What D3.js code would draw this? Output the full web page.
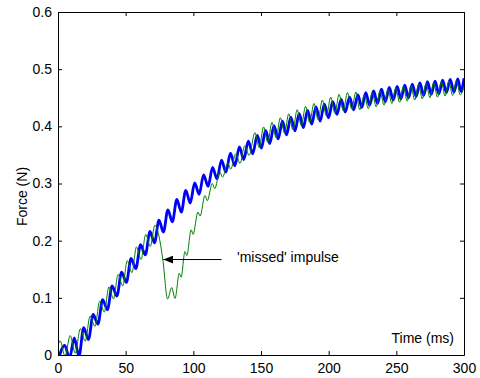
<!DOCTYPE html>
<html>
<head>
<meta charset="utf-8">
<script src="https://cdn.jsdelivr.net/npm/d3@7"></script>
<style>
  body { margin: 0; background: #fff; }
  svg text { font-family: "Liberation Sans", Arial, sans-serif; }
</style>
</head>
<body>
<figure id="chart" style="margin:0"></figure>
<script>
// tick labels
const xTicks = [0, 50, 100, 150, 200, 250, 300];
const yTicks = [0, 0.1, 0.2, 0.3, 0.4, 0.5, 0.6];

// blue trace: time (ms) and force (N), peaks and troughs
const blueTime = [0, 5, 8.5, 12, 15.5, 19, 22.5, 26, 29.5, 33, 36.5, 40, 43.5, 47, 50.5, 54, 57.5, 61, 64.5, 68,
  71.3, 74.6, 77.9, 81.2, 84.5, 87.8, 91.1, 94.4, 97.7, 101, 104.3, 107.6, 110.9, 114.2, 117.5, 120.8, 124.1, 127.4,
  130.7, 134, 137.3, 140.6, 143.9, 147.2, 150.3, 153.4, 156.5, 159.6, 162.7, 165.8, 168.9, 172, 175.1, 178.2, 181.3,
  184.4, 187.5, 190.6, 193.7, 196.8, 199.9, 203, 206.1, 209.2, 212.3, 215.4, 218.5, 221.6, 224.5, 227.4, 230.3, 233.2,
  236.1, 239, 241.9, 244.8, 247.7, 250.6, 253.4, 256.2, 259, 261.8, 264.6, 267.4, 270.2, 273, 275.8, 278.6, 281.4,
  284.2, 287, 289.8, 292.6, 295.4, 297.8, 300];
const blueForce = [-0.01, 0.017, -0.006, 0.030, -0.002, 0.048, 0.027, 0.071, 0.054, 0.097, 0.079, 0.121, 0.103, 0.145,
  0.127, 0.169, 0.151, 0.193, 0.175, 0.216, 0.196, 0.236, 0.215, 0.254, 0.233, 0.272, 0.250, 0.288, 0.266, 0.301,
  0.281, 0.315, 0.295, 0.328, 0.308, 0.341, 0.320, 0.353, 0.331, 0.364, 0.342, 0.374, 0.352, 0.384, 0.362, 0.393,
  0.370, 0.401, 0.378, 0.409, 0.385, 0.416, 0.392, 0.422, 0.398, 0.428, 0.404, 0.434, 0.409, 0.439, 0.415, 0.443,
  0.421, 0.447, 0.425, 0.451, 0.429, 0.455, 0.433, 0.459, 0.437, 0.462, 0.440, 0.465, 0.443, 0.468, 0.446, 0.470,
  0.448, 0.472, 0.450, 0.474, 0.452, 0.476, 0.454, 0.478, 0.456, 0.479, 0.457, 0.481, 0.459, 0.482, 0.460, 0.483,
  0.461, 0.484];

// green trace, with the missed impulse around 80 ms
const greenTime = [0, 1.5, 5.2, 9, 12.8, 16.5, 20.1, 23.7, 27.3, 30.8, 34.2, 37.6, 41, 44.4, 47.8, 51.2, 54.6, 58,
  61.4, 64.8, 68.2, 71.6, 74.2, 77.5, 81, 84, 86.5, 89.6, 91, 93.8, 95.2, 98.4, 99.8, 103.4, 105, 108.6, 110.3, 114,
  115.8, 119.6, 121.6, 125.4, 127.6, 131.4, 134.5, 138, 141.2, 145.5, 148.7, 151.9, 155, 158.1, 161.2, 164.3, 167.4,
  170.5, 173.6, 176.7, 179.8, 182.9, 186, 189.1, 192.2, 195.3, 198.4, 201.5, 204.6, 207.7, 210.8, 213.9, 217, 220.1,
  223, 226.4, 229.3, 232.2, 235.1, 238, 240.9, 243.8, 246.7, 249.6, 252.4, 255.2, 258, 260.8, 263.6, 266.4, 269.2,
  272, 274.8, 277.6, 280.4, 283.2, 286, 288.8, 291.6, 294.4, 297.2, 300];
const greenForce = [0.016, 0.025, -0.002, 0.034, 0.003, 0.046, 0.024, 0.068, 0.050, 0.094, 0.075, 0.119, 0.098,
  0.141, 0.121, 0.165, 0.144, 0.189, 0.167, 0.211, 0.190, 0.227, 0.212, 0.166, 0.098, 0.118, 0.099, 0.143, 0.136,
  0.181, 0.174, 0.219, 0.211, 0.250, 0.243, 0.279, 0.270, 0.300, 0.291, 0.320, 0.311, 0.336, 0.325, 0.352, 0.335,
  0.366, 0.349, 0.389, 0.363, 0.399, 0.372, 0.407, 0.380, 0.415, 0.388, 0.422, 0.394, 0.429, 0.401, 0.435, 0.407,
  0.440, 0.412, 0.446, 0.418, 0.451, 0.423, 0.456, 0.427, 0.459, 0.430, 0.460, 0.429, 0.455, 0.431, 0.459, 0.434,
  0.462, 0.437, 0.464, 0.440, 0.467, 0.442, 0.469, 0.444, 0.471, 0.446, 0.473, 0.448, 0.475, 0.450, 0.476, 0.451,
  0.478, 0.453, 0.479, 0.454, 0.480, 0.455, 0.470];

// annotation: arrow from (tail) to (tip), in data units
const noteText = "'missed' impulse";
const arrowFrom = [120.9, 0.167];
const arrowTo = [77.8, 0.167];
const notePos = [132.3, 0.162];

const width = 480, height = 378;
const margin = { top: 12, right: 16, bottom: 23, left: 58 };
const w = width - margin.left - margin.right;
const h = height - margin.top - margin.bottom;

const svg = d3.select("figure#chart")
  .append("svg")
  .attr("width", width)
  .attr("height", height);

const g = svg.append("g")
  .attr("transform", "translate(" + margin.left + "," + margin.top + ")");

const x = d3.scaleLinear().domain([0, 300]).range([0, w]);
const y = d3.scaleLinear().domain([0, 0.6]).range([h, 0]);

// clip traces to the axes box
g.append("clipPath").attr("id", "clip")
  .append("rect").attr("width", w).attr("height", h);

const line = d3.line()
  .x(d => x(d[0]))
  .y(d => y(d[1]))
  .curve(d3.curveMonotoneX);

g.append("path")
  .datum(blueTime.map((t, i) => [t, blueForce[i]]))
  .attr("clip-path", "url(#clip)")
  .attr("fill", "none")
  .attr("stroke", "#0000ff")
  .attr("stroke-width", 2.8)
  .attr("d", line);

g.append("path")
  .datum(greenTime.map((t, i) => [t, greenForce[i]]))
  .attr("clip-path", "url(#clip)")
  .attr("fill", "none")
  .attr("stroke", "#008000")
  .attr("stroke-width", 1)
  .attr("d", line);

// axes, ticks pointing inward on all four sides
const fmtY = d => d === 0 ? "0" : d.toFixed(1);

const xAxis = g.append("g")
  .attr("transform", "translate(0," + h + ")")
  .call(d3.axisBottom(x).tickValues(xTicks).tickSizeInner(-4).tickSizeOuter(0).tickPadding(8));
const xTop = g.append("g")
  .call(d3.axisTop(x).tickValues(xTicks).tickSizeInner(-4).tickSizeOuter(0).tickFormat(""));
const yAxis = g.append("g")
  .call(d3.axisLeft(y).tickValues(yTicks).tickSizeInner(-4).tickSizeOuter(0).tickPadding(6).tickFormat(fmtY));
const yRight = g.append("g")
  .attr("transform", "translate(" + w + ",0)")
  .call(d3.axisRight(y).tickValues(yTicks).tickSizeInner(-4).tickSizeOuter(0).tickFormat(""));

[xAxis, xTop, yAxis, yRight].forEach(a => {
  a.selectAll("path, line").attr("stroke", "#000").attr("stroke-width", 1);
  a.selectAll("text").attr("fill", "#000").style("font-size", "14px");
});

// axis labels
g.append("text")
  .attr("x", w - 10)
  .attr("y", h - 12)
  .attr("text-anchor", "end")
  .style("font-size", "14px")
  .text("Time (ms)");

g.append("text")
  .attr("transform", "translate(" + (27 - margin.left) + "," + (196.5 - margin.top) + ") rotate(-90)")
  .attr("text-anchor", "middle")
  .style("font-size", "14px")
  .text("Force (N)");

// arrow annotation
svg.append("defs").append("marker")
  .attr("id", "head")
  .attr("viewBox", "0 0 10 8")
  .attr("refX", 10).attr("refY", 4)
  .attr("markerWidth", 10).attr("markerHeight", 8)
  .attr("markerUnits", "userSpaceOnUse")
  .attr("orient", "auto")
  .append("path").attr("d", "M0,0L10,4L0,8Z").attr("fill", "#000");

g.append("line")
  .attr("x1", x(arrowFrom[0])).attr("y1", y(arrowFrom[1]))
  .attr("x2", x(arrowTo[0])).attr("y2", y(arrowTo[1]))
  .attr("stroke", "#000").attr("stroke-width", 1)
  .attr("marker-end", "url(#head)");

g.append("text")
  .attr("x", x(notePos[0]))
  .attr("y", y(notePos[1]))
  .style("font-size", "14px")
  .text(noteText);
</script>
</body>
</html>
